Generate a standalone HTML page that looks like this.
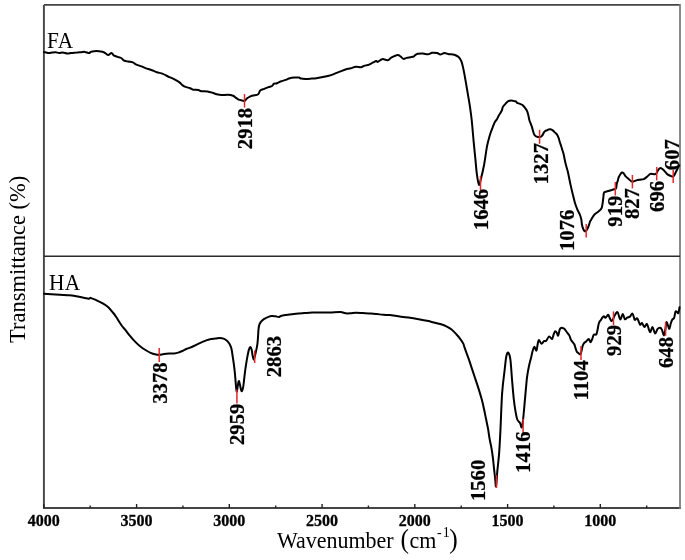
<!DOCTYPE html>
<html><head><meta charset="utf-8"><style>
html,body{margin:0;padding:0;background:#fff;}
body{width:685px;height:560px;overflow:hidden;}
svg{display:block;filter:blur(0.3px);}
text{font-family:"Liberation Serif",serif;}
</style></head><body>
<svg width="685" height="560" viewBox="0 0 685 560">
<path d="M43.9,4.9 H680 M43.9,4.9 V508 M43,508 H680.9" fill="none" stroke="#454545" stroke-width="1.9"/>
<path d="M680,4 V508.9" fill="none" stroke="#777" stroke-width="1.7"/>
<line x1="43.9" y1="256.3" x2="680" y2="256.3" stroke="#2a2a2a" stroke-width="1.4"/>
<line x1="43.8" y1="508" x2="43.8" y2="504.0" stroke="#222" stroke-width="1.4"/>
<line x1="90.2" y1="508" x2="90.2" y2="505.5" stroke="#222" stroke-width="1.4"/>
<line x1="136.6" y1="508" x2="136.6" y2="504.0" stroke="#222" stroke-width="1.4"/>
<line x1="182.9" y1="508" x2="182.9" y2="505.5" stroke="#222" stroke-width="1.4"/>
<line x1="229.3" y1="508" x2="229.3" y2="504.0" stroke="#222" stroke-width="1.4"/>
<line x1="275.7" y1="508" x2="275.7" y2="505.5" stroke="#222" stroke-width="1.4"/>
<line x1="322.1" y1="508" x2="322.1" y2="504.0" stroke="#222" stroke-width="1.4"/>
<line x1="368.4" y1="508" x2="368.4" y2="505.5" stroke="#222" stroke-width="1.4"/>
<line x1="414.8" y1="508" x2="414.8" y2="504.0" stroke="#222" stroke-width="1.4"/>
<line x1="461.2" y1="508" x2="461.2" y2="505.5" stroke="#222" stroke-width="1.4"/>
<line x1="507.6" y1="508" x2="507.6" y2="504.0" stroke="#222" stroke-width="1.4"/>
<line x1="553.9" y1="508" x2="553.9" y2="505.5" stroke="#222" stroke-width="1.4"/>
<line x1="600.3" y1="508" x2="600.3" y2="504.0" stroke="#222" stroke-width="1.4"/>
<line x1="646.7" y1="508" x2="646.7" y2="505.5" stroke="#222" stroke-width="1.4"/>
<text x="43.8" y="526.2" font-size="16" font-weight="bold" text-anchor="middle" fill="#000" stroke="#000" stroke-width="0.3">4000</text>
<text x="136.6" y="526.2" font-size="16" font-weight="bold" text-anchor="middle" fill="#000" stroke="#000" stroke-width="0.3">3500</text>
<text x="229.3" y="526.2" font-size="16" font-weight="bold" text-anchor="middle" fill="#000" stroke="#000" stroke-width="0.3">3000</text>
<text x="322.1" y="526.2" font-size="16" font-weight="bold" text-anchor="middle" fill="#000" stroke="#000" stroke-width="0.3">2500</text>
<text x="414.8" y="526.2" font-size="16" font-weight="bold" text-anchor="middle" fill="#000" stroke="#000" stroke-width="0.3">2000</text>
<text x="507.6" y="526.2" font-size="16" font-weight="bold" text-anchor="middle" fill="#000" stroke="#000" stroke-width="0.3">1500</text>
<text x="600.3" y="526.2" font-size="16" font-weight="bold" text-anchor="middle" fill="#000" stroke="#000" stroke-width="0.3">1000</text>
<path d="M44.00,52.20C44.20,52.20 44.42,52.05 45.20,52.20C45.98,52.35 47.53,53.05 48.70,53.10C49.87,53.15 51.03,52.65 52.20,52.50C53.37,52.35 54.53,52.10 55.70,52.20C56.87,52.30 58.03,53.05 59.20,53.10C60.37,53.15 61.33,52.42 62.70,52.50C64.07,52.58 66.03,53.50 67.40,53.60C68.77,53.70 69.73,53.23 70.90,53.10C72.07,52.97 73.23,52.92 74.40,52.80C75.57,52.68 76.73,52.50 77.90,52.40C79.07,52.30 80.23,52.28 81.40,52.20C82.57,52.12 83.63,51.75 84.90,51.90C86.17,52.05 88.03,53.10 89.00,53.10C89.97,53.10 89.83,52.22 90.70,51.90C91.57,51.58 92.83,51.32 94.20,51.20C95.57,51.08 97.53,51.10 98.90,51.20C100.27,51.30 101.33,51.48 102.40,51.80C103.47,52.12 104.32,52.55 105.30,53.10C106.28,53.65 107.27,55.10 108.30,55.10C109.33,55.10 110.53,53.00 111.50,53.10C112.47,53.20 113.08,55.07 114.10,55.70C115.12,56.33 116.43,56.52 117.60,56.90C118.77,57.28 120.02,57.38 121.10,58.00C122.18,58.62 122.92,60.00 124.10,60.60C125.28,61.20 126.75,61.30 128.20,61.60C129.65,61.90 131.53,61.93 132.80,62.40C134.07,62.87 134.35,63.73 135.80,64.40C137.25,65.07 139.88,65.78 141.50,66.40C143.12,67.02 143.63,67.42 145.50,68.10C147.37,68.78 150.82,69.82 152.70,70.50C154.58,71.18 155.10,71.63 156.80,72.20C158.50,72.77 161.03,73.18 162.90,73.90C164.77,74.62 166.30,75.70 168.00,76.50C169.70,77.30 171.23,77.77 173.10,78.70C174.97,79.63 177.67,81.03 179.20,82.10C180.73,83.17 181.27,84.30 182.30,85.10C183.33,85.90 184.10,86.38 185.40,86.90C186.70,87.42 188.80,87.73 190.10,88.20C191.40,88.67 191.83,89.40 193.20,89.70C194.57,90.00 196.95,89.75 198.30,90.00C199.65,90.25 199.77,90.95 201.30,91.20C202.83,91.45 205.62,91.23 207.50,91.50C209.38,91.77 211.07,92.33 212.60,92.80C214.13,93.27 215.17,93.92 216.70,94.30C218.23,94.68 219.93,95.02 221.80,95.10C223.67,95.18 226.03,94.68 227.90,94.80C229.77,94.92 231.63,95.28 233.00,95.80C234.37,96.32 235.17,97.27 236.10,97.90C237.03,98.53 237.58,99.18 238.60,99.60C239.62,100.02 241.17,100.18 242.20,100.40C243.23,100.62 244.03,101.23 244.80,100.90C245.57,100.57 245.87,99.17 246.80,98.40C247.73,97.63 249.35,96.78 250.40,96.30C251.45,95.82 251.80,95.85 253.10,95.50C254.40,95.15 257.02,95.02 258.20,94.20C259.38,93.38 259.18,91.50 260.20,90.60C261.22,89.70 262.93,89.38 264.30,88.80C265.67,88.22 267.12,87.57 268.40,87.10C269.68,86.63 271.07,86.57 272.00,86.00C272.93,85.43 273.15,84.15 274.00,83.70C274.85,83.25 276.00,83.67 277.10,83.30C278.20,82.93 279.15,82.07 280.60,81.50C282.05,80.93 284.27,80.45 285.80,79.90C287.33,79.35 288.28,78.58 289.80,78.20C291.32,77.82 293.37,77.70 294.90,77.60C296.43,77.50 297.97,77.43 299.00,77.60C300.03,77.77 300.07,78.38 301.10,78.60C302.13,78.82 303.50,78.90 305.20,78.90C306.90,78.90 309.43,78.72 311.30,78.60C313.17,78.48 314.93,78.38 316.40,78.20C317.87,78.02 318.63,77.78 320.10,77.50C321.57,77.22 323.50,76.85 325.20,76.50C326.90,76.15 328.60,75.92 330.30,75.40C332.00,74.88 333.70,74.07 335.40,73.40C337.10,72.73 338.80,72.05 340.50,71.40C342.20,70.75 343.88,70.02 345.60,69.50C347.32,68.98 349.08,68.77 350.80,68.30C352.52,67.83 354.20,66.87 355.90,66.70C357.60,66.53 359.65,67.43 361.00,67.30C362.35,67.17 362.65,66.35 364.00,65.90C365.35,65.45 367.57,65.18 369.10,64.60C370.63,64.02 372.00,62.98 373.20,62.40C374.40,61.82 375.53,61.18 376.30,61.10C377.07,61.02 376.95,62.17 377.80,61.90C378.65,61.63 380.52,59.97 381.40,59.50C382.28,59.03 382.05,58.98 383.10,59.10C384.15,59.22 386.35,60.45 387.70,60.20C389.05,59.95 390.10,58.28 391.20,57.60C392.30,56.92 393.18,56.52 394.30,56.10C395.42,55.68 396.88,55.07 397.90,55.10C398.92,55.13 399.47,55.67 400.40,56.30C401.33,56.93 402.47,58.63 403.50,58.90C404.53,59.17 405.42,58.18 406.60,57.90C407.78,57.62 409.42,57.43 410.60,57.20C411.78,56.97 412.93,56.85 413.70,56.50C414.47,56.15 414.52,55.55 415.20,55.10C415.88,54.65 416.52,54.07 417.80,53.80C419.08,53.53 421.20,53.42 422.90,53.50C424.60,53.58 426.47,54.42 428.00,54.30C429.53,54.18 430.57,53.00 432.10,52.80C433.63,52.60 435.83,52.82 437.20,53.10C438.57,53.38 439.10,54.50 440.30,54.50C441.50,54.50 442.95,53.15 444.40,53.10C445.85,53.05 447.35,53.93 449.00,54.20C450.65,54.47 452.70,54.22 454.30,54.70C455.90,55.18 457.42,55.98 458.60,57.10C459.78,58.22 460.57,59.25 461.40,61.40C462.23,63.55 462.88,66.67 463.60,70.00C464.32,73.33 464.98,77.35 465.70,81.40C466.42,85.45 467.18,90.03 467.90,94.30C468.62,98.57 469.37,102.72 470.00,107.00C470.63,111.28 471.08,114.13 471.70,120.00C472.32,125.87 473.10,135.83 473.70,142.20C474.30,148.57 474.77,152.85 475.30,158.20C475.83,163.55 476.28,169.87 476.90,174.30C477.52,178.73 478.33,184.00 479.00,184.80C479.67,185.60 480.05,182.45 480.90,179.10C481.75,175.75 483.15,169.78 484.10,164.70C485.05,159.62 485.88,152.63 486.60,148.60C487.32,144.57 487.73,143.13 488.40,140.50C489.07,137.87 489.83,135.13 490.60,132.80C491.37,130.47 492.27,128.33 493.00,126.50C493.73,124.67 494.32,123.05 495.00,121.80C495.68,120.55 496.45,120.08 497.10,119.00C497.75,117.92 498.35,116.30 498.90,115.30C499.45,114.30 499.88,113.88 500.40,113.00C500.92,112.12 501.58,111.02 502.00,110.00C502.42,108.98 502.40,107.85 502.90,106.90C503.40,105.95 504.17,105.22 505.00,104.30C505.83,103.38 506.83,102.02 507.90,101.40C508.97,100.78 510.22,100.62 511.40,100.60C512.58,100.58 514.17,101.10 515.00,101.30C515.83,101.50 516.05,101.55 516.40,101.80C516.75,102.05 516.50,102.45 517.10,102.80C517.70,103.15 519.03,103.47 520.00,103.90C520.97,104.33 522.07,104.73 522.90,105.40C523.73,106.07 524.30,106.95 525.00,107.90C525.70,108.85 526.53,109.83 527.10,111.10C527.67,112.37 528.02,113.97 528.40,115.50C528.78,117.03 529.02,118.95 529.40,120.30C529.78,121.65 530.27,122.47 530.70,123.60C531.13,124.73 531.68,126.12 532.00,127.10C532.32,128.08 532.25,128.32 532.60,129.50C532.95,130.68 533.55,133.07 534.10,134.20C534.65,135.33 535.30,135.85 535.90,136.30C536.50,136.75 537.10,136.77 537.70,136.90C538.30,137.03 538.90,137.17 539.50,137.10C540.10,137.03 540.77,136.87 541.30,136.50C541.83,136.13 542.28,135.55 542.70,134.90C543.12,134.25 543.38,133.25 543.80,132.60C544.22,131.95 544.67,131.38 545.20,131.00C545.73,130.62 546.43,130.55 547.00,130.30C547.57,130.05 548.03,129.68 548.60,129.50C549.17,129.32 549.70,129.05 550.40,129.20C551.10,129.35 552.07,129.87 552.80,130.40C553.53,130.93 554.12,131.73 554.80,132.40C555.48,133.07 556.28,133.52 556.90,134.40C557.52,135.28 558.03,136.48 558.50,137.70C558.97,138.92 559.23,140.23 559.70,141.70C560.17,143.17 560.83,145.03 561.30,146.50C561.77,147.97 562.10,149.17 562.50,150.50C562.90,151.83 563.37,153.17 563.70,154.50C564.03,155.83 564.17,156.90 564.50,158.50C564.83,160.10 565.13,161.83 565.70,164.10C566.27,166.37 567.10,168.68 567.90,172.10C568.70,175.52 569.67,180.82 570.50,184.60C571.33,188.38 572.17,191.78 572.90,194.80C573.63,197.82 574.15,200.23 574.90,202.70C575.65,205.17 576.58,207.63 577.40,209.60C578.22,211.57 579.15,212.87 579.80,214.50C580.45,216.13 580.95,217.77 581.30,219.40C581.65,221.03 581.63,222.83 581.90,224.30C582.17,225.77 582.52,227.13 582.90,228.20C583.28,229.27 583.73,230.20 584.20,230.70C584.67,231.20 585.12,231.62 585.70,231.20C586.28,230.78 587.12,229.35 587.70,228.20C588.28,227.05 588.80,225.45 589.20,224.30C589.60,223.15 589.78,222.03 590.10,221.30C590.42,220.57 590.60,220.72 591.10,219.90C591.60,219.08 592.45,217.38 593.10,216.40C593.75,215.42 594.10,214.82 595.00,214.00C595.90,213.18 597.43,212.40 598.50,211.50C599.57,210.60 600.75,209.75 601.40,208.60C602.05,207.45 602.10,206.23 602.40,204.60C602.70,202.97 602.95,200.73 603.20,198.80C603.45,196.87 603.53,194.15 603.90,193.00C604.27,191.85 604.50,192.28 605.40,191.90C606.30,191.52 607.82,191.13 609.30,190.70C610.78,190.27 613.17,189.72 614.30,189.30C615.43,188.88 615.68,189.15 616.10,188.20C616.52,187.25 616.50,184.90 616.80,183.60C617.10,182.30 617.60,181.42 617.90,180.40C618.20,179.38 618.18,178.52 618.60,177.50C619.02,176.48 619.87,175.13 620.40,174.30C620.93,173.47 621.27,172.68 621.80,172.50C622.33,172.32 622.95,172.55 623.60,173.20C624.25,173.85 624.87,175.45 625.70,176.40C626.53,177.35 627.65,178.07 628.60,178.90C629.55,179.73 630.57,180.98 631.40,181.40C632.23,181.82 632.77,181.57 633.60,181.40C634.43,181.23 635.33,180.68 636.40,180.40C637.47,180.12 638.77,179.92 640.00,179.70C641.23,179.48 642.60,179.57 643.75,179.10C644.90,178.63 645.81,177.77 646.90,176.90C647.99,176.03 649.27,174.37 650.30,173.90C651.33,173.43 652.17,174.08 653.10,174.10C654.03,174.12 655.12,174.58 655.90,174.00C656.68,173.42 657.12,171.58 657.80,170.60C658.48,169.62 659.22,168.35 660.00,168.10C660.78,167.85 661.67,168.52 662.50,169.10C663.33,169.68 664.17,170.72 665.00,171.60C665.83,172.48 666.57,173.68 667.50,174.40C668.43,175.12 669.67,175.53 670.60,175.90C671.53,176.27 672.47,176.75 673.10,176.60C673.73,176.45 673.98,175.68 674.40,175.00C674.82,174.32 675.18,173.33 675.60,172.50C676.02,171.67 676.48,170.83 676.90,170.00C677.32,169.17 677.70,168.27 678.10,167.50C678.50,166.73 679.10,165.75 679.30,165.40" fill="none" stroke="#000" stroke-width="2" stroke-linejoin="round" stroke-linecap="round"/>
<path d="M44.00,293.80C45.95,293.90 51.80,294.17 55.70,294.40C59.60,294.63 64.68,295.00 67.40,295.20C70.12,295.40 70.07,295.33 72.00,295.60C73.93,295.87 76.27,296.28 79.00,296.80C81.73,297.32 86.45,298.52 88.40,298.70C90.35,298.88 89.33,297.63 90.70,297.90C92.07,298.17 94.45,299.32 96.60,300.30C98.75,301.28 101.65,302.63 103.60,303.80C105.55,304.97 106.75,305.85 108.30,307.30C109.85,308.75 111.55,310.85 112.90,312.50C114.25,314.15 115.38,315.70 116.40,317.20C117.42,318.70 118.07,320.03 119.00,321.50C119.93,322.97 120.98,324.65 122.00,326.00C123.02,327.35 123.73,327.90 125.10,329.60C126.47,331.30 128.50,334.15 130.20,336.20C131.90,338.25 133.60,340.18 135.30,341.90C137.00,343.62 138.70,345.15 140.40,346.50C142.10,347.85 143.80,348.95 145.50,350.00C147.20,351.05 148.88,352.07 150.60,352.80C152.32,353.53 154.35,354.07 155.80,354.40C157.25,354.73 157.95,354.85 159.30,354.80C160.65,354.75 162.28,354.30 163.90,354.10C165.52,353.90 167.30,353.72 169.00,353.60C170.70,353.48 172.57,353.57 174.10,353.40C175.63,353.23 176.83,353.00 178.20,352.60C179.57,352.20 180.93,351.60 182.30,351.00C183.67,350.40 185.22,349.52 186.40,349.00C187.58,348.48 188.17,348.40 189.40,347.90C190.63,347.40 192.35,346.68 193.80,346.00C195.25,345.32 196.65,344.50 198.10,343.80C199.55,343.10 201.03,342.42 202.50,341.80C203.97,341.18 205.43,340.57 206.90,340.10C208.37,339.63 209.85,339.25 211.30,339.00C212.75,338.75 214.15,338.77 215.60,338.60C217.05,338.43 218.68,338.00 220.00,338.00C221.32,338.00 222.33,338.13 223.50,338.60C224.67,339.07 225.97,339.85 227.00,340.80C228.03,341.75 228.97,343.00 229.70,344.30C230.43,345.60 230.88,346.47 231.40,348.60C231.92,350.73 232.38,354.42 232.80,357.10C233.22,359.78 233.53,361.83 233.90,364.70C234.27,367.57 234.70,371.27 235.00,374.30C235.30,377.33 235.42,380.03 235.70,382.90C235.98,385.77 236.38,390.82 236.70,391.50C237.02,392.18 237.27,388.72 237.60,387.00C237.93,385.28 238.33,381.70 238.70,381.20C239.07,380.70 239.35,382.37 239.80,384.00C240.25,385.63 240.87,390.33 241.40,391.00C241.93,391.67 242.55,389.88 243.00,388.00C243.45,386.12 243.75,382.52 244.10,379.70C244.45,376.88 244.75,373.78 245.10,371.10C245.45,368.42 245.83,365.93 246.20,363.60C246.57,361.27 246.85,359.43 247.30,357.10C247.75,354.77 248.40,351.28 248.90,349.60C249.40,347.92 249.85,347.00 250.30,347.00C250.75,347.00 251.20,348.08 251.60,349.60C252.00,351.12 252.35,354.45 252.70,356.10C253.05,357.75 253.38,359.33 253.70,359.50C254.02,359.67 254.23,358.38 254.60,357.10C254.97,355.82 255.47,353.75 255.90,351.80C256.33,349.85 256.88,347.37 257.20,345.40C257.52,343.43 257.57,342.80 257.80,340.00C258.03,337.20 258.30,331.27 258.60,328.60C258.90,325.93 259.00,325.37 259.60,324.00C260.20,322.63 261.10,321.42 262.20,320.40C263.30,319.38 264.68,318.62 266.20,317.90C267.72,317.18 269.77,316.37 271.30,316.10C272.83,315.83 274.12,316.17 275.40,316.30C276.68,316.43 277.97,316.98 279.00,316.90C280.03,316.82 280.15,316.15 281.60,315.80C283.05,315.45 285.32,315.13 287.70,314.80C290.08,314.47 293.18,314.08 295.90,313.80C298.62,313.52 301.28,313.32 304.00,313.10C306.72,312.88 309.47,312.58 312.20,312.50C314.93,312.42 317.40,312.60 320.40,312.60C323.40,312.60 326.87,312.58 330.20,312.50C333.53,312.42 337.85,311.97 340.40,312.10C342.95,312.23 343.80,313.10 345.50,313.30C347.20,313.50 348.88,313.38 350.60,313.30C352.32,313.22 353.75,312.83 355.80,312.80C357.85,312.77 360.35,312.98 362.90,313.10C365.45,313.22 368.72,313.33 371.10,313.50C373.48,313.67 375.17,313.88 377.20,314.10C379.23,314.32 381.17,314.63 383.30,314.80C385.43,314.97 387.77,314.88 390.00,315.10C392.23,315.32 393.63,315.68 396.70,316.10C399.77,316.52 404.52,317.02 408.40,317.60C412.28,318.18 416.12,318.88 420.00,319.60C423.88,320.32 428.18,321.12 431.70,321.90C435.22,322.68 438.57,323.52 441.10,324.30C443.63,325.08 445.15,325.73 446.90,326.60C448.65,327.47 450.03,328.23 451.60,329.50C453.17,330.77 454.93,332.73 456.30,334.20C457.67,335.67 458.63,336.73 459.80,338.30C460.97,339.87 462.50,342.03 463.30,343.60C464.10,345.17 463.70,345.15 464.60,347.70C465.50,350.25 467.48,355.42 468.70,358.90C469.92,362.38 470.83,365.38 471.90,368.60C472.97,371.82 474.03,374.98 475.10,378.20C476.17,381.42 477.18,384.33 478.30,387.90C479.42,391.47 480.83,396.00 481.80,399.60C482.77,403.20 483.38,406.22 484.10,409.50C484.82,412.78 485.43,416.03 486.10,419.30C486.77,422.57 487.52,425.83 488.10,429.10C488.68,432.37 489.02,435.62 489.60,438.90C490.18,442.18 491.03,445.52 491.60,448.80C492.17,452.08 492.60,455.33 493.00,458.60C493.40,461.87 493.65,465.13 494.00,468.40C494.35,471.67 494.75,475.18 495.10,478.20C495.45,481.22 495.73,487.63 496.10,486.50C496.47,485.37 496.80,476.88 497.30,471.40C497.80,465.92 498.58,460.33 499.10,453.60C499.62,446.87 499.90,441.00 500.40,431.00C500.90,421.00 501.40,403.70 502.10,393.60C502.80,383.50 503.90,376.58 504.60,370.40C505.30,364.22 505.70,359.47 506.30,356.50C506.90,353.53 507.52,352.08 508.20,352.60C508.88,353.12 509.77,355.15 510.40,359.60C511.03,364.05 511.44,372.75 512.00,379.30C512.56,385.85 513.17,393.55 513.75,398.90C514.33,404.25 514.91,407.97 515.50,411.40C516.09,414.83 516.55,417.57 517.30,419.50C518.05,421.43 519.25,421.67 520.00,423.00C520.75,424.33 521.27,428.23 521.80,427.50C522.33,426.77 522.67,423.37 523.20,418.60C523.73,413.83 524.43,405.15 525.00,398.90C525.57,392.65 526.18,385.22 526.60,381.10C527.02,376.98 527.10,376.72 527.50,374.20C527.90,371.68 528.37,368.92 529.00,366.00C529.63,363.08 530.68,359.23 531.30,356.70C531.92,354.17 532.17,352.45 532.70,350.80C533.23,349.15 533.88,346.83 534.50,346.80C535.12,346.77 535.85,351.17 536.40,350.60C536.95,350.03 537.38,345.15 537.80,343.40C538.22,341.65 538.30,340.05 538.90,340.10C539.50,340.15 540.55,343.52 541.40,343.70C542.25,343.88 543.20,341.68 544.00,341.20C544.80,340.72 545.35,341.60 546.20,340.80C547.05,340.00 548.13,336.70 549.10,336.40C550.07,336.10 551.22,339.42 552.00,339.00C552.78,338.58 553.25,335.18 553.80,333.90C554.35,332.62 554.80,331.48 555.30,331.30C555.80,331.12 556.32,332.07 556.80,332.80C557.28,333.53 557.72,336.25 558.20,335.70C558.68,335.15 559.15,330.83 559.70,329.50C560.25,328.17 560.83,327.88 561.50,327.70C562.17,327.52 563.12,328.08 563.70,328.40C564.28,328.72 564.43,328.92 565.00,329.60C565.57,330.28 566.38,331.53 567.10,332.50C567.82,333.47 568.70,334.27 569.30,335.40C569.90,336.53 570.23,338.30 570.70,339.30C571.17,340.30 571.50,340.57 572.10,341.40C572.70,342.23 573.70,343.10 574.30,344.30C574.90,345.50 575.28,347.35 575.70,348.60C576.12,349.85 576.32,351.03 576.80,351.80C577.28,352.57 578.00,352.78 578.60,353.20C579.20,353.62 579.93,354.60 580.40,354.30C580.87,354.00 581.05,352.72 581.40,351.40C581.75,350.08 582.08,347.77 582.50,346.40C582.92,345.03 583.42,343.92 583.90,343.20C584.38,342.48 584.87,342.57 585.40,342.10C585.93,341.63 586.57,340.93 587.10,340.40C587.63,339.87 588.18,338.90 588.60,338.90C589.02,338.90 589.25,339.87 589.60,340.40C589.95,340.93 590.28,342.28 590.70,342.10C591.12,341.92 591.62,340.48 592.10,339.30C592.58,338.12 593.12,335.78 593.60,335.00C594.08,334.22 594.53,334.72 595.00,334.60C595.47,334.48 595.98,335.07 596.40,334.30C596.82,333.53 597.13,331.67 597.50,330.00C597.87,328.33 598.25,325.73 598.60,324.30C598.95,322.87 599.23,322.08 599.60,321.40C599.97,320.72 600.35,320.82 600.80,320.20C601.25,319.58 601.80,318.37 602.30,317.70C602.80,317.03 603.25,316.20 603.80,316.20C604.35,316.20 604.88,317.93 605.60,317.70C606.32,317.47 607.43,314.80 608.10,314.80C608.77,314.80 609.05,316.67 609.60,317.70C610.15,318.73 610.85,320.70 611.40,321.00C611.95,321.30 612.35,320.42 612.90,319.50C613.45,318.58 613.92,316.72 614.70,315.50C615.48,314.28 616.68,311.53 617.60,312.20C618.52,312.87 619.35,319.20 620.20,319.50C621.05,319.80 621.92,314.05 622.70,314.00C623.48,313.95 624.17,318.58 624.90,319.20C625.63,319.82 626.25,318.13 627.10,317.70C627.95,317.27 629.08,317.27 630.00,316.60C630.92,315.93 631.80,313.15 632.60,313.70C633.40,314.25 634.07,319.15 634.80,319.90C635.53,320.65 636.37,317.98 637.00,318.20C637.63,318.42 638.08,320.10 638.60,321.20C639.12,322.30 639.55,324.50 640.10,324.80C640.65,325.10 641.17,322.63 641.90,323.00C642.63,323.37 643.65,326.82 644.50,327.00C645.35,327.18 646.08,323.25 647.00,324.10C647.92,324.95 649.08,331.62 650.00,332.10C650.92,332.58 651.65,326.75 652.50,327.00C653.35,327.25 654.25,333.30 655.10,333.60C655.95,333.90 656.75,329.78 657.60,328.80C658.45,327.82 659.47,327.52 660.20,327.70C660.93,327.88 661.40,328.62 662.00,329.90C662.60,331.18 663.25,335.40 663.80,335.40C664.35,335.40 664.87,332.08 665.30,329.90C665.73,327.72 665.98,323.15 666.40,322.30C666.82,321.45 667.32,323.72 667.80,324.80C668.28,325.88 668.80,329.03 669.30,328.80C669.80,328.57 670.32,324.92 670.80,323.40C671.28,321.88 671.65,320.62 672.20,319.70C672.75,318.78 673.55,319.23 674.10,317.90C674.65,316.57 675.02,312.68 675.50,311.70C675.98,310.72 676.52,311.77 677.00,312.00C677.48,312.23 677.98,313.88 678.40,313.10C678.82,312.32 679.32,308.27 679.50,307.30" fill="none" stroke="#000" stroke-width="2" stroke-linejoin="round" stroke-linecap="round"/>
<line x1="244.5" y1="94.1" x2="244.5" y2="107.5" stroke="#e8262a" stroke-width="1.5"/>
<text transform="translate(245.0,128.5) scale(1,1.035) rotate(-90)" x="0" y="0" dy="0.34em" font-size="20" font-weight="bold" text-anchor="middle" fill="#000" stroke="#000" stroke-width="0.25">2918</text>
<line x1="480.5" y1="175.9" x2="480.5" y2="190.4" stroke="#e8262a" stroke-width="1.5"/>
<text transform="translate(481.0,209.5) scale(1,1.035) rotate(-90)" x="0" y="0" dy="0.34em" font-size="20" font-weight="bold" text-anchor="middle" fill="#000" stroke="#000" stroke-width="0.25">1646</text>
<line x1="539.6" y1="129.8" x2="539.6" y2="143.8" stroke="#e8262a" stroke-width="1.5"/>
<text transform="translate(541.0,163.7) scale(1,1.035) rotate(-90)" x="0" y="0" dy="0.34em" font-size="20" font-weight="bold" text-anchor="middle" fill="#000" stroke="#000" stroke-width="0.25">1327</text>
<line x1="586.2" y1="224.0" x2="586.2" y2="237.5" stroke="#e8262a" stroke-width="1.5"/>
<text transform="translate(567.5,230.3) scale(1,1.035) rotate(-90)" x="0" y="0" dy="0.34em" font-size="20" font-weight="bold" text-anchor="middle" fill="#000" stroke="#000" stroke-width="0.25">1076</text>
<line x1="615.3" y1="182.0" x2="615.3" y2="195.5" stroke="#e8262a" stroke-width="1.5"/>
<text transform="translate(615.2,211.2) scale(1,1.035) rotate(-90)" x="0" y="0" dy="0.34em" font-size="20" font-weight="bold" text-anchor="middle" fill="#000" stroke="#000" stroke-width="0.25">919</text>
<line x1="632.4" y1="175.0" x2="632.4" y2="188.4" stroke="#e8262a" stroke-width="1.5"/>
<text transform="translate(632.6,203.6) scale(1,1.035) rotate(-90)" x="0" y="0" dy="0.34em" font-size="20" font-weight="bold" text-anchor="middle" fill="#000" stroke="#000" stroke-width="0.25">827</text>
<line x1="656.7" y1="167.0" x2="656.7" y2="180.4" stroke="#e8262a" stroke-width="1.5"/>
<text transform="translate(656.7,196.4) scale(1,1.035) rotate(-90)" x="0" y="0" dy="0.34em" font-size="20" font-weight="bold" text-anchor="middle" fill="#000" stroke="#000" stroke-width="0.25">696</text>
<line x1="673.2" y1="170.0" x2="673.2" y2="182.9" stroke="#e8262a" stroke-width="1.5"/>
<text transform="translate(672.5,154.7) scale(1,1.035) rotate(-90)" x="0" y="0" dy="0.34em" font-size="20" font-weight="bold" text-anchor="middle" fill="#000" stroke="#000" stroke-width="0.25">607</text>
<line x1="159.2" y1="347.9" x2="159.2" y2="362.1" stroke="#e8262a" stroke-width="1.5"/>
<text transform="translate(160.0,383.1) scale(1,1.035) rotate(-90)" x="0" y="0" dy="0.34em" font-size="20" font-weight="bold" text-anchor="middle" fill="#000" stroke="#000" stroke-width="0.25">3378</text>
<line x1="236.9" y1="389.5" x2="236.9" y2="403.5" stroke="#e8262a" stroke-width="1.5"/>
<text transform="translate(237.5,424.3) scale(1,1.035) rotate(-90)" x="0" y="0" dy="0.34em" font-size="20" font-weight="bold" text-anchor="middle" fill="#000" stroke="#000" stroke-width="0.25">2959</text>
<line x1="254.7" y1="350.5" x2="254.7" y2="363.0" stroke="#e8262a" stroke-width="1.5"/>
<text transform="translate(273.7,356.6) scale(1,1.035) rotate(-90)" x="0" y="0" dy="0.34em" font-size="20" font-weight="bold" text-anchor="middle" fill="#000" stroke="#000" stroke-width="0.25">2863</text>
<line x1="496.4" y1="475.0" x2="496.4" y2="488.0" stroke="#e8262a" stroke-width="1.5"/>
<text transform="translate(477.8,480.4) scale(1,1.035) rotate(-90)" x="0" y="0" dy="0.34em" font-size="20" font-weight="bold" text-anchor="middle" fill="#000" stroke="#000" stroke-width="0.25">1560</text>
<line x1="523.1" y1="418.8" x2="523.1" y2="433.0" stroke="#e8262a" stroke-width="1.5"/>
<text transform="translate(523.2,452.2) scale(1,1.035) rotate(-90)" x="0" y="0" dy="0.34em" font-size="20" font-weight="bold" text-anchor="middle" fill="#000" stroke="#000" stroke-width="0.25">1416</text>
<line x1="581.0" y1="346.0" x2="581.0" y2="360.0" stroke="#e8262a" stroke-width="1.5"/>
<text transform="translate(581.0,380.4) scale(1,1.035) rotate(-90)" x="0" y="0" dy="0.34em" font-size="20" font-weight="bold" text-anchor="middle" fill="#000" stroke="#000" stroke-width="0.25">1104</text>
<line x1="613.5" y1="311.4" x2="613.5" y2="325.0" stroke="#e8262a" stroke-width="1.5"/>
<text transform="translate(613.9,340.4) scale(1,1.035) rotate(-90)" x="0" y="0" dy="0.34em" font-size="20" font-weight="bold" text-anchor="middle" fill="#000" stroke="#000" stroke-width="0.25">929</text>
<line x1="665.6" y1="322.0" x2="665.6" y2="335.7" stroke="#e8262a" stroke-width="1.5"/>
<text transform="translate(665.7,352.5) scale(1,1.035) rotate(-90)" x="0" y="0" dy="0.34em" font-size="20" font-weight="bold" text-anchor="middle" fill="#000" stroke="#000" stroke-width="0.25">648</text>
<text transform="translate(47,48.2) scale(0.97,1.07)" x="0" y="0" font-size="22" letter-spacing="0.6" fill="#000">FA</text>
<text transform="translate(49,289.5) scale(0.97,1.07)" x="0" y="0" font-size="22" letter-spacing="0.3" fill="#000">HA</text>
<g transform="translate(0,547.5) scale(1,1.06)"><text y="0" font-size="22" fill="#000"><tspan x="277">Wavenumber</tspan><tspan x="400.5" font-size="25.5">(</tspan><tspan x="409.6">cm</tspan><tspan x="437" y="-10.3" font-size="14">-</tspan><tspan x="442.8" y="-10.3" font-size="14">1</tspan><tspan x="449.3" y="0" font-size="25.5">)</tspan></text></g>
<text transform="translate(25,259.3) rotate(-90)" x="0" y="0" font-size="22.5" text-anchor="middle" fill="#000">Transmittance (%)</text>
</svg>
</body></html>
